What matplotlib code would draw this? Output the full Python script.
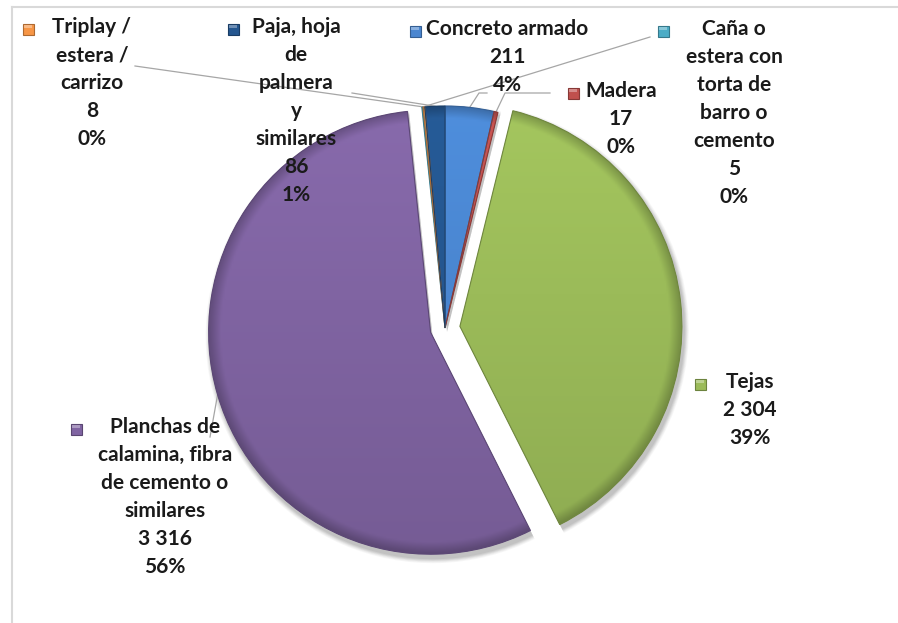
import numpy as np
import matplotlib.pyplot as plt
from matplotlib.colors import to_rgb
from matplotlib.patches import Wedge, Rectangle

plt.rcParams['font.family'] = ['Lato', 'DejaVu Sans']

# Material del techo (orden de la serie)
categories = [
    "Concreto armado",
    "Madera",
    "Tejas",
    "Planchas de\ncalamina, fibra\nde cemento o\nsimilares",
    "Caña o\nestera con\ntorta de\nbarro o\ncemento",
    "Triplay /\nestera /\ncarrizo",
    "Paja, hoja\nde\npalmera\ny\nsimilares",
]
values = [211, 17, 2304, 3316, 5, 8, 86]

colors = ["#4a86d0", "#c0504d", "#9bbb59", "#8064a2", "#4bacc6", "#f79646", "#24568f"]
# offset of pulled-out slices, in pixels
explode = [0, 0, 15, 15, 0, 0, 0]

# label block: centre x, top y, key-square x
label_pos = [
    (507, 19, 415),
    (621, 81, 573),
    (750, 372, 700),
    (165, 417, 76),
    (734, 19, 663),
    (92, 17, 28),
    (296, 17, 233),
]
# leader lines: points from the label side towards the slice
leaders = {
    0: [(487, 93), (479, 93)],
    1: [(550, 93), (505, 93)],
    3: [(210, 437)],
    4: [(650, 37)],
    5: [(135, 66)],
    6: [(352, 93)],
}

W, H = 898, 623
fig = plt.figure(figsize=(W / 100, H / 100), dpi=100)
ax = fig.add_axes([0, 0, 1, 1])

cx, cy, R = 445, 328, 222
wedges, _ = ax.pie(values, colors=colors, startangle=270, counterclock=True,
                   center=(cx, cy), radius=R, explode=explode,
                   wedgeprops=dict(linewidth=0, zorder=3))
ax.set_xlim(0, W)
ax.set_ylim(H, 0)
ax.set_aspect('equal')
ax.axis('off')

# soft drop shadow under each slice
for w in wedges:
    (wx, wy) = w.center
    for k, a in zip(range(6), [0.05, 0.05, 0.05, 0.04, 0.03, 0.03]):
        sh = Wedge((wx + 2, wy + 4), w.r + 1 + k * 0.8, w.theta1, w.theta2,
                   facecolor='black', edgecolor='none', alpha=a, zorder=1)
        ax.add_patch(sh)


def shaded(color, n=200):
    base = np.array(to_rgb(color))
    yy, xx = np.mgrid[0:n, 0:n] / (n - 1)
    dist = np.hypot(xx - 0.5, yy - 0.5) * 2
    f = 1.06 - 0.14 * yy
    rim = np.clip((dist - 0.95) / 0.05, 0, 1)
    f = f * (1 - 0.22 * rim)
    img = np.clip(base[None, None, :] * f[..., None], 0, 1)
    return img


# bevel-like shading clipped to each slice
for w, c in zip(wedges, colors):
    wx, wy = w.center
    im = ax.imshow(shaded(c), extent=(wx - w.r, wx + w.r, wy + w.r, wy - w.r),
                   origin='upper', zorder=4, interpolation='bilinear')
    im.set_clip_path(w)
    edge = np.array(to_rgb(c)) * 0.72
    ax.add_patch(Wedge(w.center, w.r, w.theta1, w.theta2, facecolor='none',
                       edgecolor=edge, linewidth=0.8, zorder=5))
ax.set_xlim(0, W)
ax.set_ylim(H, 0)

total = sum(values)
for i, (name, v, c) in enumerate(zip(categories, values, colors)):
    tx, ty, kx = label_pos[i]
    pct = round(100 * v / total)
    num = f"{v:,}".replace(",", " ")
    txt = f"{name}\n{num}\n{pct}%"
    ax.text(tx, ty, txt, ha='center', va='top', multialignment='center',
            fontsize=15, fontweight='bold', color='#1a1a1a', linespacing=1.5,
            zorder=6)
    # legend key square
    ky = ty + 12
    base = np.array(to_rgb(c))
    ax.add_patch(Rectangle((kx - 5.5, ky - 5.5), 11, 11, facecolor=base,
                           edgecolor=base * 0.7, linewidth=0.8, zorder=6))
    ax.add_patch(Rectangle((kx - 4, ky - 4.5), 8, 3.5, facecolor='white',
                           alpha=0.35, edgecolor='none', zorder=7))

# leader lines from labels to slice rims
for i, pts in leaders.items():
    w = wedges[i]
    mid = np.deg2rad((w.theta1 + w.theta2) / 2)
    rim = (w.center[0] + w.r * np.cos(mid), w.center[1] + w.r * np.sin(mid))
    xs = [p[0] for p in pts] + [rim[0]]
    ys = [p[1] for p in pts] + [rim[1]]
    ax.plot(xs, ys, color='#a6a6a6', linewidth=0.9, zorder=2.5)

# chart area frame
ax.plot([12, W], [7, 7], color='#d9d9d9', linewidth=1.5, zorder=0)
ax.plot([12, 12], [7, H], color='#d9d9d9', linewidth=1.5, zorder=0)

fig.savefig('out.png', dpi=100, facecolor='white')
